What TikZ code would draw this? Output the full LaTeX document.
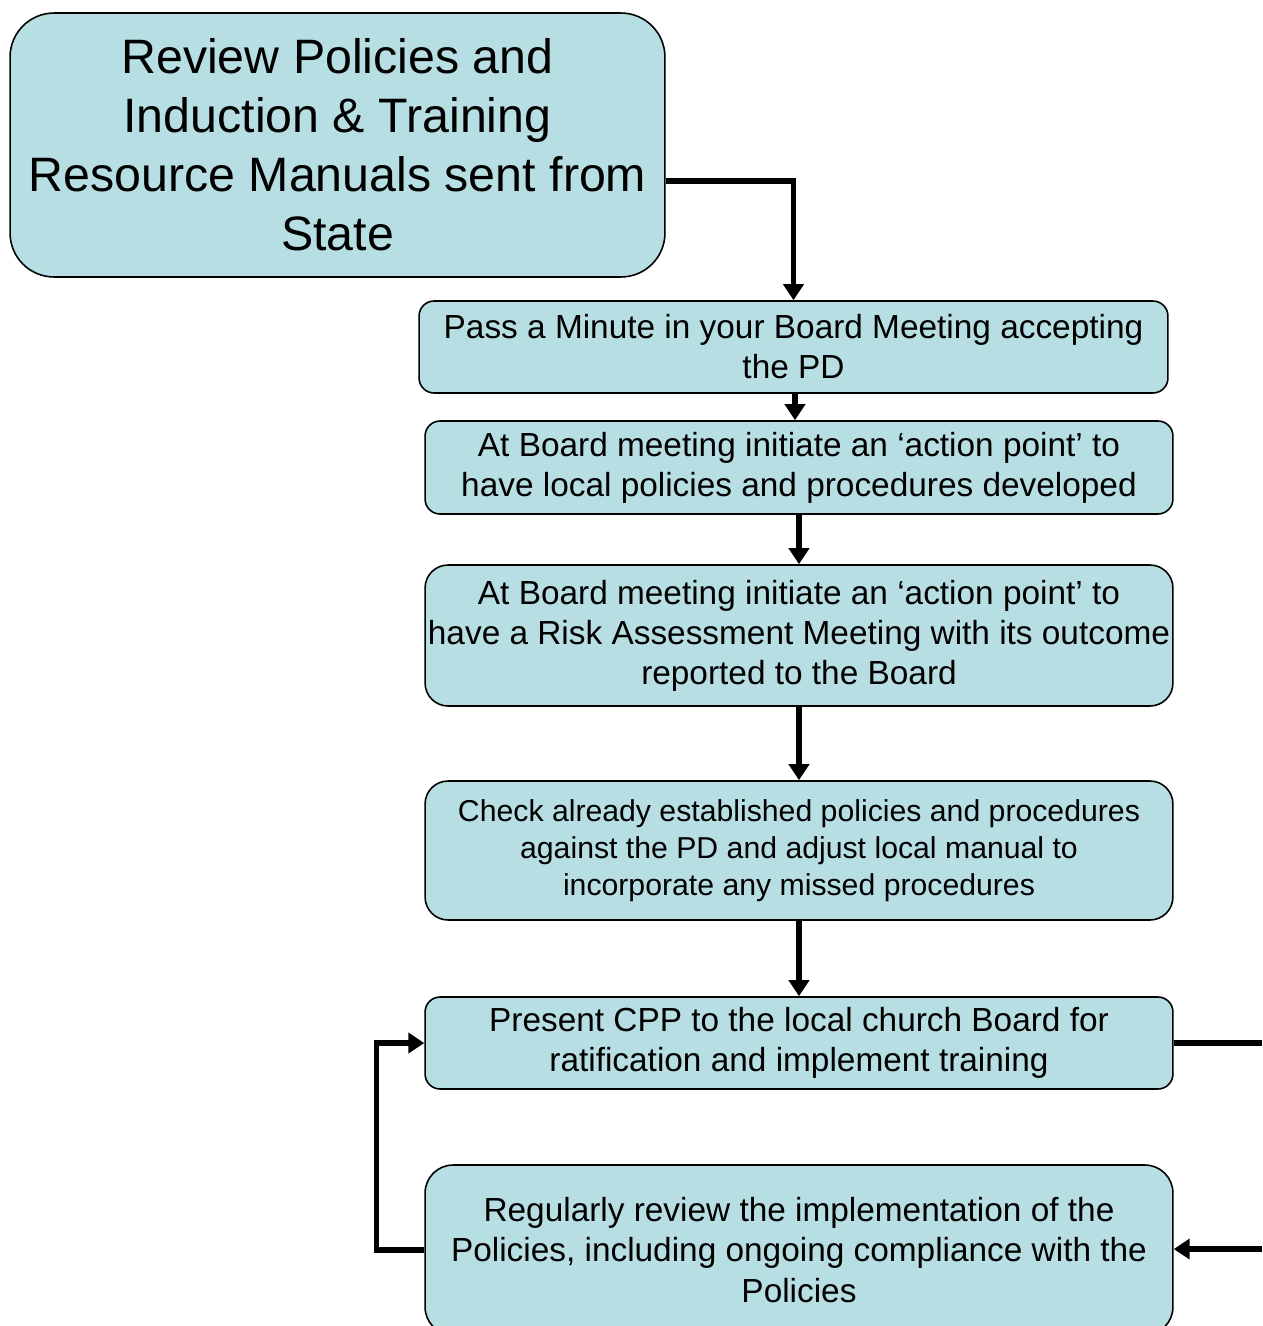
\documentclass[tikz,border=0pt]{standalone}
\usepackage{fontspec}
\setmainfont{Liberation Sans}
\usetikzlibrary{arrows.meta}
\definecolor{boxfill}{RGB}{183,222,226}
\begin{document}
\begin{tikzpicture}[x=0.02cm, y=-0.02cm,
    stepbox/.style={draw, fill=boxfill, line width=0.9pt, align=center, inner sep=0pt,
        minimum width=14.96cm, font=\fontsize{19}{22.8}\selectfont},
    flow/.style={-{Triangle[width=0.4cm,length=0.32cm]}, line width=2.9pt},
    link/.style={line width=2.9pt}]

    \useasboundingbox (0,0) rectangle (1262,1326);

    % Node definitions
    \node (review) at (337.5,145) [stepbox, minimum width=13.1cm, minimum height=5.28cm,
        rounded corners=0.88cm, font=\fontsize{27.5}{33.6}\selectfont]
        {Review Policies and\\Induction \& Training\\Resource Manuals sent from\\State};
    \node (minute) at (793.5,347) [stepbox, minimum width=14.98cm, minimum height=1.84cm,
        rounded corners=0.3cm] {Pass a Minute in your Board Meeting accepting\\the PD};
    \node (local) at (799,467.5) [stepbox, minimum height=1.86cm, rounded corners=0.3cm]
        {At Board meeting initiate an `action point' to\\have local policies and procedures developed};
    \node (risk) at (799,635.5) [stepbox, minimum height=2.82cm, rounded corners=0.46cm]
        {At Board meeting initiate an `action point' to\\have a Risk Assessment Meeting with its outcome\\reported to the Board};
    \node (check) at (799,850.5) [stepbox, minimum height=2.78cm, rounded corners=0.46cm,
        font=\fontsize{17.2}{21}\selectfont]
        {Check already established policies and procedures\\against the PD and adjust local manual to\\incorporate any missed procedures};
    \node (present) at (799,1043) [stepbox, minimum height=1.84cm, rounded corners=0.3cm]
        {Present CPP to the local church Board for\\ratification and implement training};
    \node (regular) at (799,1250) [stepbox, minimum height=3.4cm, rounded corners=0.56cm]
        {Regularly review the implementation of the\\Policies, including ongoing compliance with the\\Policies};

    % Loose ends at the right edge
    \coordinate (outA) at (1262,1043);
    \coordinate (outB) at (1262,1249);

    % Connector definitions
    \draw[flow] ([yshift=-0.72cm]review.east) -| (minute.north);
    \draw[flow] ([xshift=0.03cm]minute.south) -- ([xshift=0.03cm]minute.south |- local.north);
    \draw[flow] (local) -- (risk);
    \draw[flow] (risk) -- (check);
    \draw[flow] (check) -- (present);
    \draw[link] (present.east) -- (outA);
    \draw[flow] (outB) -- (regular.east |- outB);
    \draw[flow] (regular.west) -- ++(-48,0) |- (present.west);
\end{tikzpicture}
\end{document}
